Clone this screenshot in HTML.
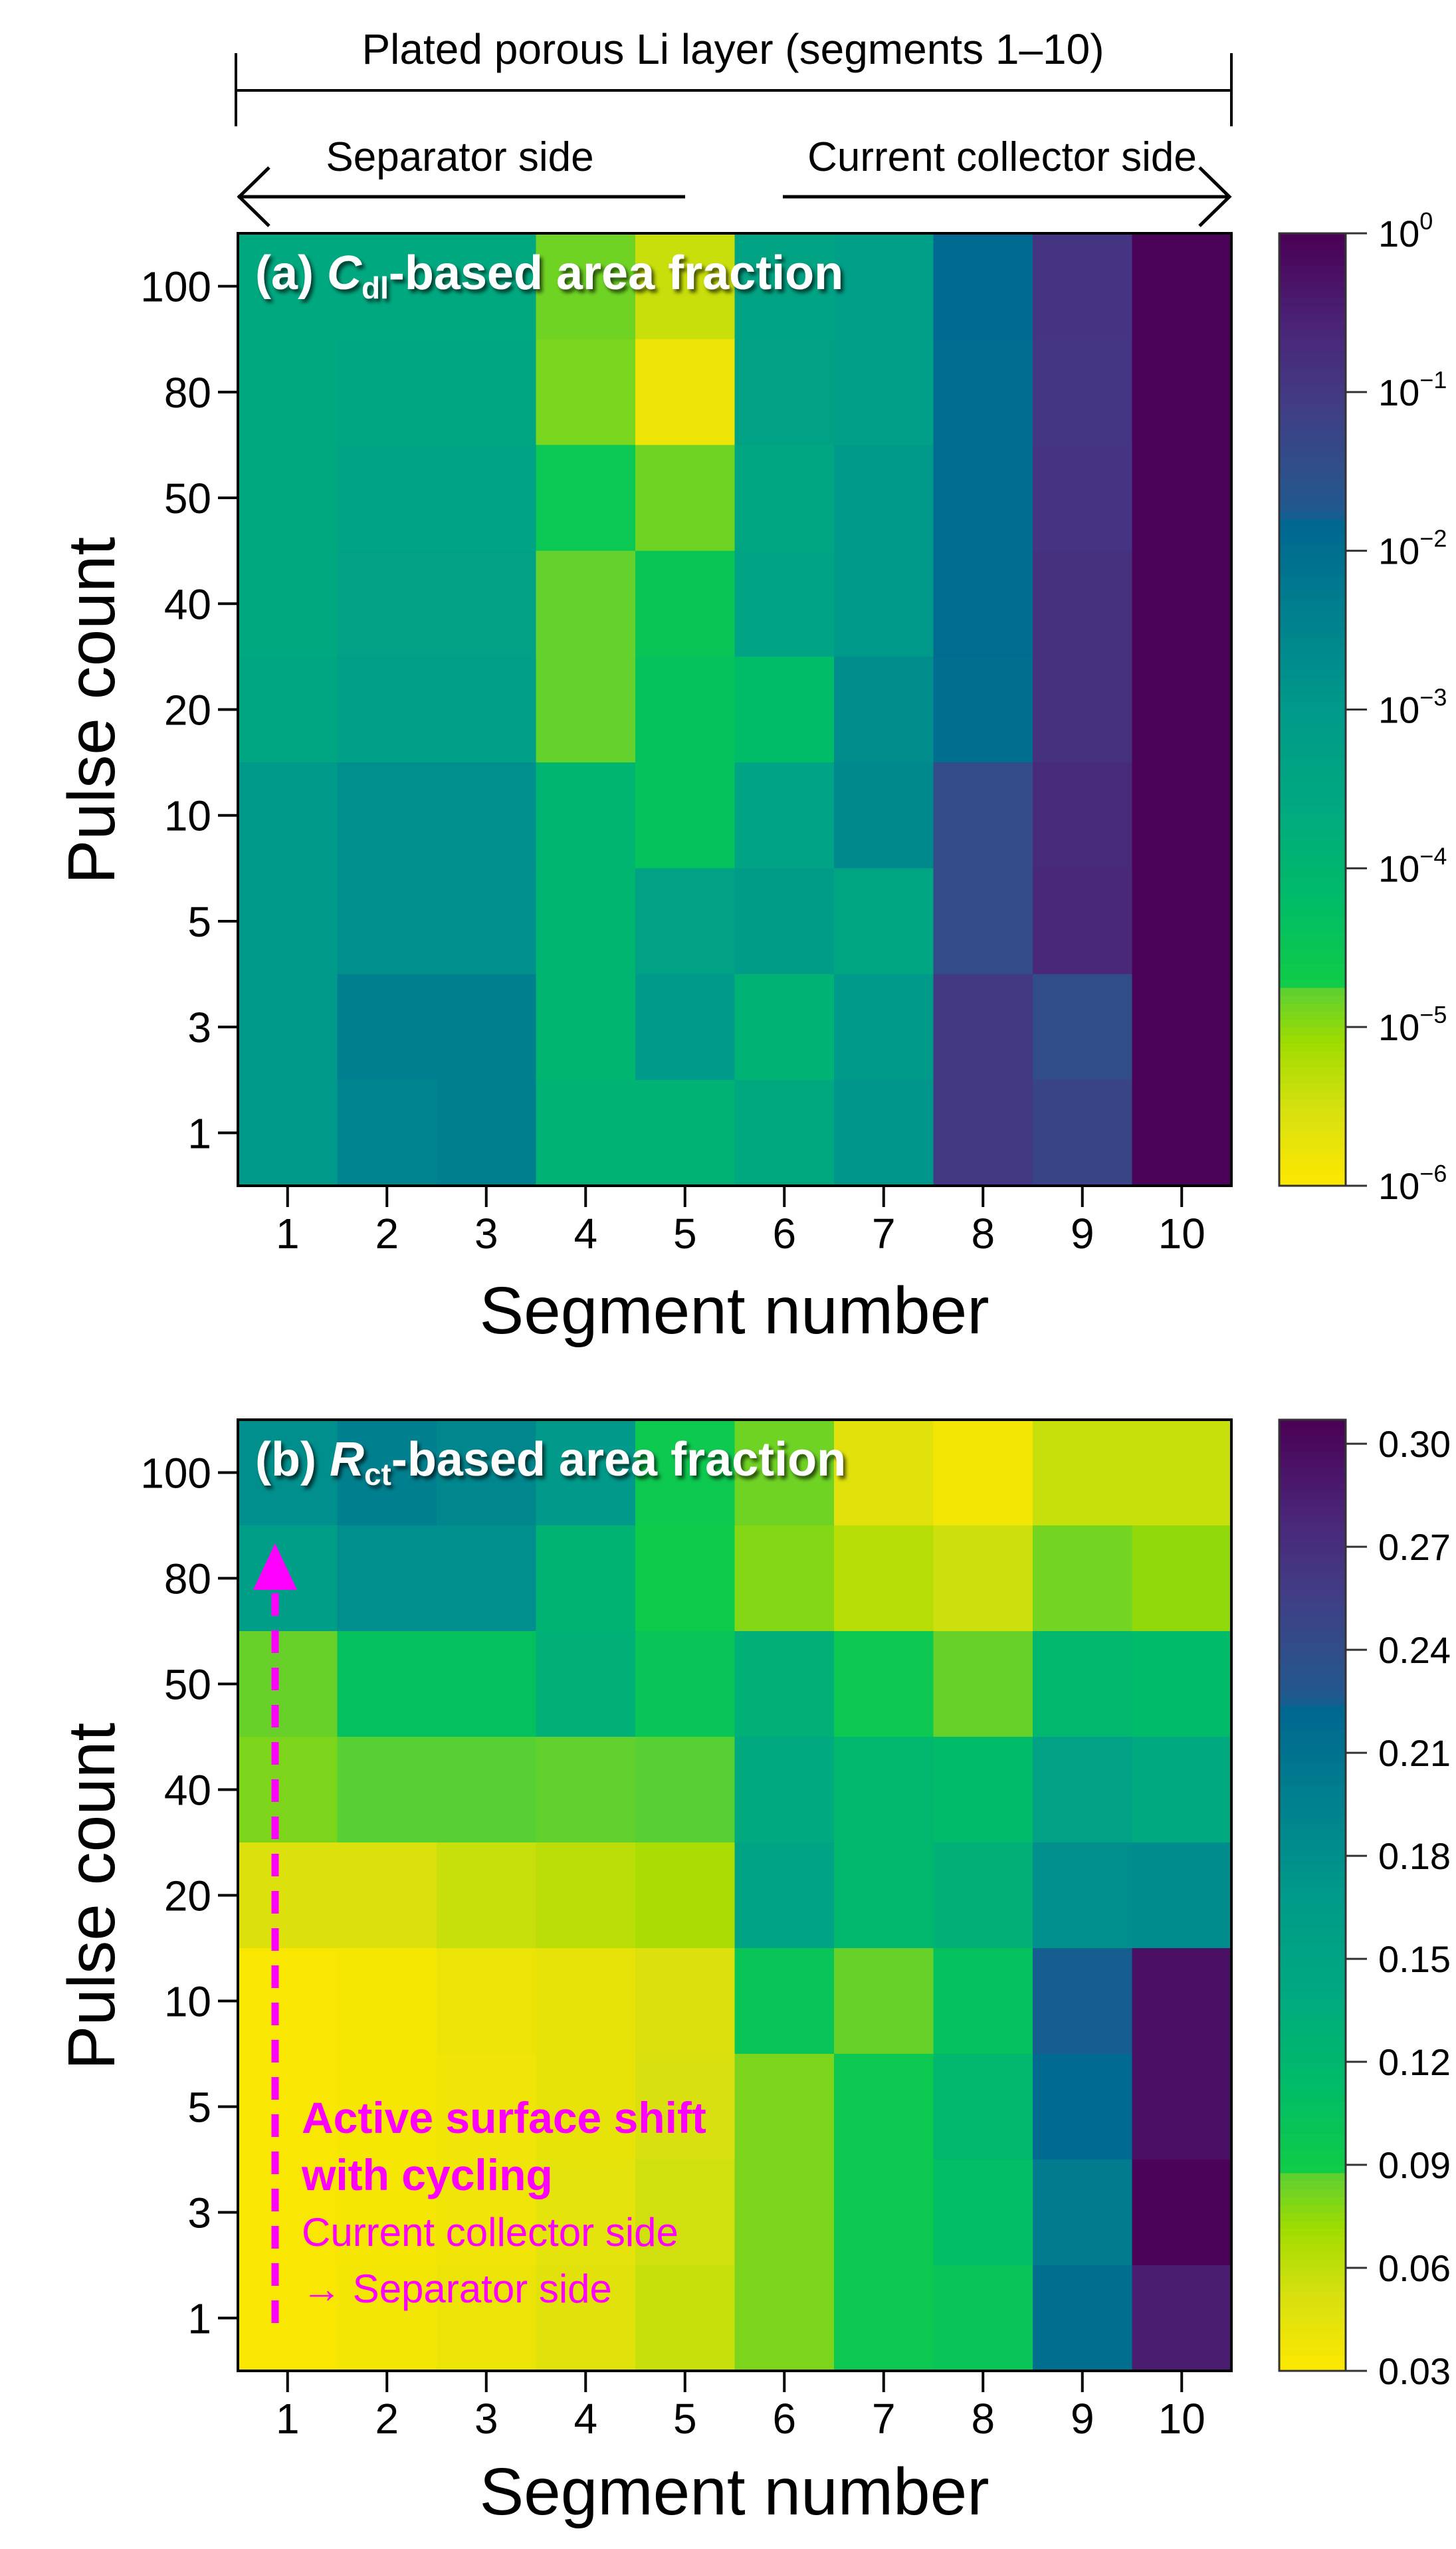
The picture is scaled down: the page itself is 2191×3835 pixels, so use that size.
<!DOCTYPE html>
<html><head><meta charset="utf-8"><style>
html,body{margin:0;padding:0;background:#fff;}
svg{display:block;font-family:"Liberation Sans",Arial,sans-serif;}
</style></head><body>
<svg id="fig" width="2191" height="3835" viewBox="0 0 2191 3835" xmlns="http://www.w3.org/2000/svg">
<defs>
<filter id="shadow" x="-5%" y="-20%" width="115%" height="160%">
<feDropShadow dx="4" dy="5" stdDeviation="3" flood-color="#000" flood-opacity="0.65"/>
</filter>
</defs>
<g>
<text x="1103" y="96" font-size="64" text-anchor="middle">Plated porous Li layer (segments 1–10)</text>
<line x1="355" y1="136" x2="1853" y2="136" stroke="#000" stroke-width="4"/>
<line x1="355" y1="80" x2="355" y2="190" stroke="#000" stroke-width="4"/>
<line x1="1853" y1="80" x2="1853" y2="190" stroke="#000" stroke-width="4"/>
<text x="692" y="257" font-size="62" text-anchor="middle">Separator side</text>
<text x="1508" y="257" font-size="62" text-anchor="middle">Current collector side</text>
<line x1="358" y1="296" x2="1031" y2="296" stroke="#000" stroke-width="5"/>
<polyline points="405,252 360,296 405,340" fill="none" stroke="#000" stroke-width="5"/>
<line x1="1178" y1="296" x2="1850" y2="296" stroke="#000" stroke-width="5"/>
<polyline points="1805,252 1850,296 1805,340" fill="none" stroke="#000" stroke-width="5"/>
</g>
<g id="panelA"></g>
<g id="panelB"></g>
<g>
<line x1="414" y1="3495" x2="414" y2="2385" stroke="#ff00ff" stroke-width="11" stroke-dasharray="34,22"/>
<polygon points="414,2322 381,2392 447,2392" fill="#ff00ff"/>
<text x="454" y="3209" font-size="66" font-weight="bold" fill="#ff00ff">Active surface shift</text>
<text x="454" y="3295" font-size="66" font-weight="bold" fill="#ff00ff">with cycling</text>
<text x="454" y="3379" font-size="60" fill="#ff00ff">Current collector side</text>
<text x="454" y="3464" font-size="60" fill="#ff00ff">→ Separator side</text>
</g>
</svg>
<script>
// ---- data ----
const segments = [1,2,3,4,5,6,7,8,9,10];
const pulseLabels = ["100","80","50","40","20","10","5","3","1"];
// Panel (a): log10 of Cdl-based area fraction, rows top (100) to bottom (1)
const cdlRow100 = [-3.6,-3.6,-3.6,-4.85,-5.4,-3.4,-3.2,-1.9,-0.9,-0.05];
const cdlRow80  = [-3.6,-3.5,-3.5,-4.9,-5.8,-3.3,-3.2,-1.95,-0.95,-0.05];
const cdlRow50  = [-3.6,-3.4,-3.4,-4.55,-4.85,-3.5,-3.0,-1.95,-0.9,-0.05];
const cdlRow40  = [-3.6,-3.3,-3.3,-4.8,-4.5,-3.4,-3.0,-1.95,-0.85,-0.05];
const cdlRow20  = [-3.5,-3.2,-3.2,-4.8,-4.4,-4.2,-2.7,-2.0,-0.85,-0.05];
const cdlRow10  = [-3.0,-2.75,-2.75,-4.0,-4.4,-3.4,-2.6,-1.4,-0.7,-0.05];
const cdlRow5   = [-3.0,-2.75,-2.75,-4.0,-3.3,-3.1,-3.5,-1.4,-0.65,-0.05];
const cdlRow3   = [-3.0,-2.4,-2.4,-4.0,-3.0,-3.9,-3.0,-1.0,-1.45,-0.05];
const cdlRow1   = [-3.0,-2.5,-2.4,-3.9,-3.9,-3.6,-2.9,-1.0,-1.25,-0.05];
// Panel (b): Rct-based area fraction
const rctRow100 = [0.18,0.196,0.19,0.17,0.094,0.083,0.047,0.036,0.058,0.058];
const rctRow80  = [0.16,0.18,0.18,0.125,0.09,0.078,0.064,0.056,0.082,0.075];
const rctRow50  = [0.085,0.105,0.105,0.13,0.1,0.13,0.095,0.085,0.12,0.115];
const rctRow40  = [0.08,0.087,0.087,0.086,0.087,0.14,0.12,0.115,0.155,0.14];
const rctRow20  = [0.05,0.05,0.058,0.062,0.068,0.15,0.12,0.13,0.18,0.185];
const rctRow10  = [0.032,0.034,0.04,0.043,0.05,0.1,0.085,0.105,0.225,0.295];
const rctRow5   = [0.032,0.034,0.038,0.043,0.052,0.08,0.095,0.12,0.22,0.295];
const rctRow3   = [0.032,0.035,0.038,0.045,0.055,0.08,0.095,0.11,0.2,0.305];
const rctRow1   = [0.032,0.036,0.04,0.047,0.058,0.08,0.095,0.1,0.215,0.285];
const cbarTicksA = [0,-1,-2,-3,-4,-5,-6];
const cbarTicksB = [0.30,0.27,0.24,0.21,0.18,0.15,0.12,0.09,0.06,0.03];

const cdl = [cdlRow100,cdlRow80,cdlRow50,cdlRow40,cdlRow20,cdlRow10,cdlRow5,cdlRow3,cdlRow1];
const rct = [rctRow100,rctRow80,rctRow50,rctRow40,rctRow20,rctRow10,rctRow5,rctRow3,rctRow1];

const NS="http://www.w3.org/2000/svg";
const stops=[[0,"#fde800"],[0.08,"#d8e010"],[0.15,"#a0dc00"],[0.205,"#5fd030"],[0.212,"#10cc48"],[0.3,"#00bc68"],[0.4,"#00a880"],[0.5,"#009a8a"],[0.6,"#00808e"],[0.7,"#006690"],[0.706,"#1f5a8e"],[0.75,"#2f4f8a"],[0.83,"#433a84"],[0.9,"#4a2578"],[1,"#4a0055"]];
function hex(h){return [1,3,5].map(i=>parseInt(h.substr(i,2),16));}
function cmap(f){f=Math.max(0,Math.min(1,f));for(let i=1;i<stops.length;i++){if(f<=stops[i][0]){const a=stops[i-1],b=stops[i];const t=(f-a[0])/(b[0]-a[0]||1);const ca=hex(a[1]),cb=hex(b[1]);return "rgb("+ca.map((v,k)=>Math.round(v+(cb[k]-v)*t)).join(",")+")";}}return stops[stops.length-1][1];}
function mk(tag,attrs,parent){const e=document.createElementNS(NS,tag);for(const k in attrs)e.setAttribute(k,attrs[k]);parent.appendChild(e);return e;}

const L=358,R=1853,CBL=1925,CBR=2025;
function drawPanel(g,top,bottom,data,norm,ticks,tickLabel,titleParts,titleSub,xTitleY,yTitleY){
  const cw=(R-L)/segments.length, rh=(bottom-top)/pulseLabels.length;
  const xPos=i=>L+i*cw, yPos=j=>top+j*rh;
  for(let j=0;j<data.length;j++)for(let i=0;i<data[j].length;i++){
    const r=mk('rect',{x:xPos(i),y:yPos(j),width:cw+0.6,height:rh+0.6,fill:cmap(norm(data[j][i]))},g);
    
    
  }
  const fr=mk('rect',{x:L,y:top,width:R-L,height:bottom-top,fill:'none',stroke:'#000','stroke-width':4},g);
  
  
  for(let j=0;j<pulseLabels.length;j++){
    const y=yPos(j)+rh/2;
    const tk=mk('line',{x1:L-30,y1:y,x2:L,y2:y,stroke:'#000','stroke-width':4},g);
    
    
    const t=mk('text',{x:L-40,y:y+23,'font-size':64,'text-anchor':'end'},g);
    t.textContent=pulseLabels[j];
    
    
  }
  for(let i=0;i<segments.length;i++){
    const x=xPos(i)+cw/2;
    const tk=mk('line',{x1:x,y1:bottom,x2:x,y2:bottom+32,stroke:'#000','stroke-width':4},g);
    
    
    const t=mk('text',{x:x,y:bottom+94,'font-size':64,'text-anchor':'middle'},g);
    t.textContent=segments[i];
    
    
  }
  const xt=mk('text',{x:1105,y:xTitleY+36,'font-size':100,'text-anchor':'middle'},g);
  xt.textContent='Segment number';
  
  
  const yt=mk('text',{x:0,y:0,'font-size':100,'text-anchor':'middle',transform:'translate(172,'+yTitleY+') rotate(-90)'},g);
  yt.textContent='Pulse count';
  
  
  const tt=mk('text',{x:384,y:top+84,'font-size':72,'font-weight':'bold',fill:'#fff',filter:'url(#shadow)'},g);
  
  
  const s1=mk('tspan',{},tt);s1.textContent=titleParts[0];
  const s2=mk('tspan',{'font-style':'italic'},tt);s2.textContent=titleParts[1];
  const s3=mk('tspan',{'font-size':46,dy:14},tt);s3.textContent=titleSub;
  const s4=mk('tspan',{dy:-14},tt);s4.textContent=titleParts[2];
  const N=120,H=bottom-top;
  for(let k=0;k<N;k++){
    const f=(k+0.5)/N;
    const r=mk('rect',{x:CBL,y:bottom-(k+1)*H/N,width:CBR-CBL,height:H/N+0.8,fill:cmap(f)},g);
    
    
  }
  const cf=mk('rect',{x:CBL,y:top,width:CBR-CBL,height:H,fill:'none',stroke:'#333','stroke-width':3},g);
  
  
  ticks.forEach(v=>{
    const y=bottom-norm(v)*H;
    const tk=mk('line',{x1:CBR,y1:y,x2:CBR+32,y2:y,stroke:'#333','stroke-width':3},g);
    
    
    const t=mk('text',{x:2074,y:y+20,'font-size':56},g);
    
    
    tickLabel(t,v);
  });
}
const normA=v=>(v+6)/6;
const normB=v=>(v-0.03)/0.277;
drawPanel(document.getElementById('panelA'),351,1784,cdl,normA,cbarTicksA,
  function(t,v){
    const a=mk('tspan',{},t);a.textContent='10';
    const b=mk('tspan',{'font-size':36,dy:-26},t);b.textContent=(v===0?'0':'\u2212'+(-v));
  },
  ['(a) ','C','-based area fraction'],'dl',1970,1069);
drawPanel(document.getElementById('panelB'),2136,3567,rct,normB,cbarTicksB,
  function(t,v){t.textContent=v.toFixed(2);},
  ['(b) ','R','-based area fraction'],'ct',3747,2853);
</script>
</body></html>
